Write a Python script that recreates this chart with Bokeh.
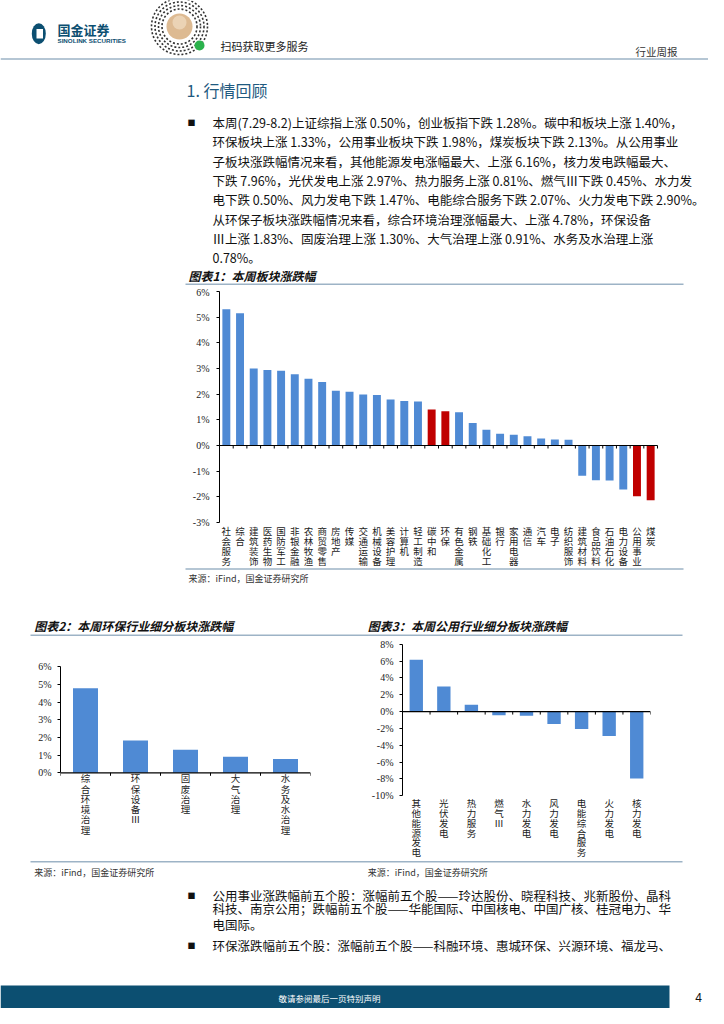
from bokeh.plotting import figure
from bokeh.layouts import column, row
from bokeh.models import Range1d, LinearAxis, FixedTicker, PrintfTickFormatter, ColumnDataSource
from bokeh.core.properties import value
from bokeh.embed import file_html
from bokeh.resources import INLINE

# ---------------- data ----------------
sectors = ["社会服务", "综合", "建筑装饰", "医药生物", "国防军工", "非银金融", "农林牧渔", "商贸零售",
           "房地产", "传媒", "交通运输", "机械设备", "美容护理", "计算机", "轻工制造", "碳中和", "环保",
           "有色金属", "钢铁", "基础化工", "银行", "家用电器", "通信", "汽车", "电子", "纺织服饰",
           "建筑材料", "食品饮料", "石油石化", "电力设备", "公用事业", "煤炭"]
sector_chg = [5.31, 5.15, 3.00, 2.94, 2.91, 2.78, 2.60, 2.47, 2.13, 2.09, 1.99, 1.97, 1.79, 1.73,
              1.71, 1.40, 1.33, 1.30, 0.88, 0.61, 0.46, 0.42, 0.36, 0.27, 0.23, 0.22,
              -1.18, -1.35, -1.36, -1.71, -1.98, -2.13]
highlight = ["碳中和", "环保", "公用事业", "煤炭"]
sector_ticks = [-3, -2, -1, 0, 1, 2, 3, 4, 5, 6]

env_subs = ["综合环境治理", "环保设备Ⅲ", "固废治理", "大气治理", "水务及水治理"]
env_chg = [4.78, 1.83, 1.30, 0.91, 0.78]
env_ticks = [0, 1, 2, 3, 4, 5, 6]

util_subs = ["其他能源发电", "光伏发电", "热力服务", "燃气Ⅲ", "水力发电", "风力发电",
             "电能综合服务", "火力发电", "核力发电"]
util_chg = [6.16, 2.97, 0.81, -0.45, -0.50, -1.47, -2.07, -2.90, -7.96]
util_ticks = [-10, -8, -6, -4, -2, 0, 2, 4, 6, 8]

para_lines = [
    "本周(7.29-8.2)上证综指上涨 0.50%，创业板指下跌 1.28%。碳中和板块上涨 1.40%，",
    "环保板块上涨 1.33%，公用事业板块下跌 1.98%，煤炭板块下跌 2.13%。从公用事业",
    "子板块涨跌幅情况来看，其他能源发电涨幅最大、上涨 6.16%，核力发电跌幅最大、",
    "下跌 7.96%，光伏发电上涨 2.97%、热力服务上涨 0.81%、燃气Ⅲ下跌 0.45%、水力发",
    "电下跌 0.50%、风力发电下跌 1.47%、电能综合服务下跌 2.07%、火力发电下跌 2.90%。",
    "从环保子板块涨跌幅情况来看，综合环境治理涨幅最大、上涨 4.78%，环保设备",
    "Ⅲ上涨 1.83%、固废治理上涨 1.30%、大气治理上涨 0.91%、水务及水治理上涨",
    "0.78%。",
]
bottom_lines = [
    "公用事业涨跌幅前五个股：涨幅前五个股——玲达股份、晓程科技、兆新股份、晶科",
    "科技、南京公用；跌幅前五个股——华能国际、中国核电、中国广核、桂冠电力、华",
    "电国际。",
    "环保涨跌幅前五个股：涨幅前五个股——科融环境、惠城环保、兴源环境、福龙马、",
]
source_text = "来源：iFind，国金证券研究所"

# ---------------- styles ----------------
BLUE = "#4F8AD4"
RED = "#C00000"
NAVY = "#0C4F71"
RULE = "#9DB3C6"
CJK = "Noto Sans CJK SC"
SERIF = "Liberation Serif"


def canvas(W, H):
    p = figure(width=W, height=H, title=None, output_backend="svg", toolbar_location=None,
               x_range=Range1d(0, W), y_range=Range1d(H, 0), min_border=0,
               x_axis_location=None, y_axis_location=None)
    p.grid.visible = False
    p.outline_line_color = None
    p.frame_align = False
    return p


def txt(p, x, y, s, size, color="#111111", style="normal", align="left", font=CJK, **kw):
    p.text(x=[x], y=[y], text=[s], text_font=value(font), text_font_size=f"{size}px",
           text_color=color, text_font_style=style, text_align=align, text_baseline="middle", **kw)


def hrule(p, x0, x1, y, color=RULE, w=1.5, **kw):
    p.segment(x0=[x0], y0=[y], x1=[x1], y1=[y], line_color=color, line_width=w, **kw)


def bar_chart(W, H, fl, fr, ax_l, ax_r, p_top, p_bot, ticks, cats, vals, colors, bar_w,
              lab_off, lab_step, lab_size, standoff):
    """fl/fr: frame borders; ax_l/ax_r: pixel span of the category axis; p_top/p_bot: pixel rows
    of the first and last y tick."""
    v_top, v_bot = ticks[-1], ticks[0]
    s = (v_top - v_bot) / (p_bot - p_top)
    n = len(cats)
    per = (ax_r - ax_l) / n
    x0 = -0.5 - (ax_l - fl) / per
    x1 = n - 0.5 + (W - fr - ax_r) / per
    p = figure(width=W, height=H, title=None, output_backend="svg", toolbar_location=None,
               x_range=Range1d(x0, x1),
               y_range=Range1d(v_bot - (H - p_bot) * s, v_top + p_top * s),
               min_border_left=fl, min_border_right=fr,
               min_border_top=0, min_border_bottom=0,
               x_axis_location=None, y_axis_location=None)
    p.grid.visible = False
    p.outline_line_color = None
    p.frame_align = False
    p.extra_x_ranges = {"px": Range1d(fl, W - fr)}
    p.extra_y_ranges = {"px": Range1d(H, 0)}

    src = ColumnDataSource(dict(x=list(range(n)), top=vals, color=colors))
    p.vbar(x="x", top="top", bottom=0, width=bar_w, fill_color="color",
           line_color=None, source=src)

    yax = LinearAxis(ticker=FixedTicker(ticks=ticks), formatter=PrintfTickFormatter(format="%d%%"),
                     bounds=(v_bot, v_top))
    if ax_l > fl:
        yax.fixed_location = -0.5
    yax.axis_line_color = "black"
    yax.axis_line_width = 1
    yax.major_tick_out = 3
    yax.major_tick_in = 0
    yax.major_tick_line_color = "black"
    yax.minor_tick_line_color = None
    yax.major_label_text_font = SERIF
    yax.major_label_text_font_size = "10px"
    yax.major_label_text_color = "#222222"
    yax.major_label_standoff = standoff
    p.add_layout(yax, "left")

    # category axis line at 0 with boundary ticks
    p.segment(x0=[-0.5], y0=[0], x1=[n - 0.5], y1=[0], line_color="black", line_width=1.2)
    edges = [i - 0.5 for i in range(n + 1)]
    p.segment(x0=edges, y0=[0] * len(edges), x1=edges, y1=[-3 * s] * len(edges),
              line_color="black", line_width=1)

    lx, ly, lt, lo = [], [], [], []
    for i, c in enumerate(cats):
        for j, ch in enumerate(c):
            lx.append(i)
            ly.append(v_bot)
            lt.append(ch)
            lo.append(lab_off + j * lab_step)
    lsrc = ColumnDataSource(dict(x=lx, y=ly, t=lt, o=lo))
    p.text(x="x", y="y", text="t", y_offset="o", source=lsrc, text_font=value(CJK),
           text_font_size=f"{lab_size}px", text_color="#222222",
           text_align="center", text_baseline="middle")
    return p


W = 708

# ---------------- top block ----------------
top = canvas(W, 286)
top.ellipse(x=[38.3], y=[33.2], width=[14], height=[21], fill_color=NAVY, line_color=None)
top.quad(left=[36], right=[42.5], top=[28.5], bottom=[38], fill_color="white", line_color=None)
txt(top, 57, 28.7, "国金证券", 13, NAVY, "bold")
txt(top, 57, 39.7, "SINOLINK SECURITIES", 6.2, NAVY, "bold", font="Liberation Sans")
for r in [28, 24.5, 21, 17.5]:
    top.circle(x=[179], y=[26], radius=r, fill_color=None, line_color="#333333",
               line_width=1.6, line_dash="2 2")
top.circle(x=[179], y=[26], radius=13, fill_color="#DDBA92", line_color=None)
top.circle(x=[179], y=[22], radius=7, fill_color="#EBD3B5", line_color=None)
top.circle(x=[199], y=[45], radius=5, fill_color="#2BB24C", line_color=None)
txt(top, 220, 45, "扫码获取更多服务", 11, "#222222")
txt(top, 635, 51, "行业周报", 10.5, "#333333")
hrule(top, 0, W, 58.5)
txt(top, 186, 89, "1. 行情回顾", 16, "#1F5A80")
txt(top, 191, 122, "■", 8, "#111111", align="center")
for i, line in enumerate(para_lines):
    txt(top, 212, 122 + 19.3 * i, line, 12.5, "#111111")
txt(top, 188, 274.7, "图表1：本周板块涨跌幅", 12, "#111111", "bold italic")
hrule(top, 185, 683, 283.7)

# ---------------- chart 1 (with its source note) ----------------
c1_colors = [RED if s in highlight else BLUE for s in sectors]
chart1 = bar_chart(W, 304, 40, 0, 219, 657, 5, 236, sector_ticks, sectors, sector_chg, c1_colors,
                   0.58, 8.3, 10, 9.5, 7)
hrule(chart1, 185, 683, 282.5, x_range_name="px", y_range_name="px")
txt(chart1, 188, 291.7, source_text, 9, "#333333", x_range_name="px", y_range_name="px")

# ---------------- middle block ----------------
mid = canvas(W, 47)
txt(mid, 33.7, 35.3, "图表2：本周环保行业细分板块涨跌幅", 12, "#111111", "bold italic")
txt(mid, 367.3, 35.3, "图表3：本周公用行业细分板块涨跌幅", 12, "#111111", "bold italic")
hrule(mid, 30, 682, 44.7)

# ---------------- charts 2 and 3 ----------------
chart2 = bar_chart(354, 222, 60, 44, 60, 310, 29.3, 135.3, env_ticks, env_subs, env_chg,
                   [BLUE] * len(env_subs), 0.5, 5.4, 10.3, 9.5, 6)
chart3 = bar_chart(354, 222, 48, 58, 48, 296, 6.7, 158.3, util_ticks, util_subs, util_chg,
                   [BLUE] * len(util_subs), 0.485, 7.4, 9.8, 9.5, 6)

# ---------------- bottom block ----------------
bot = canvas(W, 149)
hrule(bot, 30, 682, 2.3)
txt(bot, 33.7, 13, source_text, 9, "#333333")
txt(bot, 367.3, 13, source_text, 9, "#333333")
rows_y = [36, 49, 65, 86]
for yy, line in zip(rows_y, bottom_lines):
    txt(bot, 212, yy, line, 12.5, "#111111")
txt(bot, 191, rows_y[0], "■", 8, "#111111", align="center")
txt(bot, 191, rows_y[3], "■", 8, "#111111", align="center")
bot.quad(left=[0], right=[669], top=[126], bottom=[149], fill_color=NAVY, line_color=None)
txt(bot, 278, 138, "敬请参阅最后一页特别声明", 8.5, "white")
txt(bot, 698, 138, "4", 12, "#111111", align="center", font="Liberation Sans")

layout = column(top, chart1, mid, row(chart2, chart3, spacing=0), bot, spacing=0)

open("out.html", "w").write(file_html(layout, INLINE))
